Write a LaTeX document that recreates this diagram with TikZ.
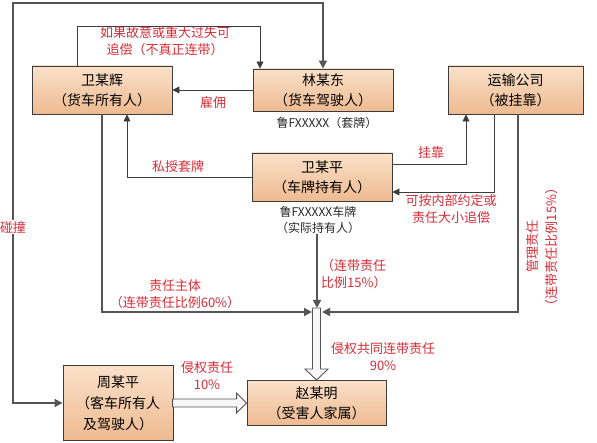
\documentclass[tikz,border=0pt]{standalone}
\usepackage{fontspec}
\setmainfont{Noto Sans CJK SC}
\usetikzlibrary{arrows.meta,calc}
\definecolor{labred}{RGB}{215,45,55}
\definecolor{boxtop}{RGB}{250,225,201}
\definecolor{boxbot}{RGB}{238,186,145}
\definecolor{edge}{RGB}{60,60,60}
\definecolor{thkline}{RGB}{85,85,85}
\definecolor{plate}{RGB}{40,40,40}
\tikzset{
  box/.style={draw=edge, line width=0.9pt, top color=boxtop, bottom color=boxbot,
    inner sep=0pt, align=center, font=\fontsize{14}{20}\selectfont},
  lab/.style={text=labred, inner sep=0pt, align=center, font=\fontsize{13}{17}\selectfont},
  platetxt/.style={text=plate, inner sep=0pt, align=center, font=\fontsize{12}{16}\selectfont},
  thinln/.style={draw=edge, line width=0.8pt, -{Triangle[length=7pt,width=7pt]}},
  thkln/.style={draw=thkline, line width=1.8pt},
  thkarr/.style={thkln, -{Triangle[length=8pt,width=8pt]}},
  hollow/.style={draw=thkline, line width=0.9pt, fill=gray!6, line join=miter}
}
\begin{document}
\begin{tikzpicture}[x=1pt,y=-1pt]
\useasboundingbox[fill=white] (0,0) rectangle (597,443);
% boxes
\node[box, minimum width=140pt, minimum height=48pt] (wh) at (102,90) {卫某辉\\（货车所有人）};
\node[box, minimum width=140pt, minimum height=42pt] (lmd) at (323,90) {林某东\\（货车驾驶人）};
\node[box, minimum width=135pt, minimum height=48pt] (ys) at (515.5,90) {运输公司\\（被挂靠）};
\node[box, minimum width=140pt, minimum height=48pt] (wmp) at (322,177) {卫某平\\（车牌持有人）};
\node[box, minimum width=110pt, minimum height=75pt, font=\fontsize{14}{21}\selectfont] (zmp) at (118,403) {周某平\\（客车所有人\\及驾驶人）};
\node[box, minimum width=139pt, minimum height=45pt] (zmm) at (316.5,403) {赵某明\\（受害人家属）};
% plate texts
\node[platetxt] (plate1) at (327,123) {鲁FXXXXX（套牌）};
\node[platetxt] (plate2) at (318,220) {鲁FXXXXX车牌\\（实际持有人）};
% junction coordinates
\coordinate (jl) at (312,312);
\coordinate (jr) at (322,312);
\coordinate (jt) at (317,308);
% collision loop
\draw[thkln, {Triangle[length=8pt,width=8pt]}-{Triangle[length=8pt,width=8pt]}] (zmp.west) -- (13,403) -- (13,3) -- (323,3) -- (lmd.north);
\node[lab, fill=white, inner sep=1pt] (pz) at (13,227) {碰撞};
% recourse loop
\draw[thinln] ([xshift=-25pt]wh.north) -- (77,26) -- (260,26) -- (260,0 |- lmd.north);
\node[lab] (l1) at (165,41.5) {如果故意或重大过失可\\追偿（不真正连带）};
% employ
\draw[thinln] (lmd.west) -- (wh.east);
\node[lab] (l2) at (213,103) {雇佣};
% plate lending
\draw[thinln] (wmp.west) -- (127,177) -- (127,0 |- wh.south);
\node[lab] (l3) at (178,167) {私授套牌};
% affiliation
\draw[thinln] ([yshift=13pt]wmp.east) -- (466,164) -- (466,0 |- ys.south);
\node[lab] (l4) at (431,153) {挂靠};
% recourse from company
\draw[thinln] (494,0 |- ys.south) -- (494,192) -- ([yshift=-15pt]wmp.east);
\node[lab] (l5) at (451,209) {可按内部约定或\\责任大小追偿};
% converging lines
\draw[thkarr] (wh.south) -- (102,312) -- (jl);
\draw[thkarr] (518,0 |- ys.south) -- (518,312) -- (jr);
\draw[thkarr] (317,0 |- plate2.south) -- (jt);
\node[lab] (l6) at (175,294) {责任主体\\（连带责任比例60\%）};
\node[lab, anchor=west, align=left] (l7) at (321,274.5) {（连带责任\\比例15\%）};
\node[lab, rotate=90, font=\fontsize{13}{19}\selectfont] (l8) at (542.5,247) {管理责任\\（连带责任比例15\%）};
% hollow arrows
\draw[hollow] (zmm.north) -- ++(11.5,-11) -- ++(-7.5,0) -- ++(0,-61) -- ++(-8,0) -- ++(0,61) -- ++(-7.5,0) -- cycle;
\draw[hollow] (zmm.west) -- ++(-10,-10) -- ++(0,6) -- ++(-64,0) -- ++(0,8) -- ++(64,0) -- ++(0,6) -- cycle;
\node[lab] (l9) at (383,356.5) {侵权共同连带责任\\90\%};
\node[lab] (l10) at (207,376) {侵权责任\\10\%};
\end{tikzpicture}
\end{document}
